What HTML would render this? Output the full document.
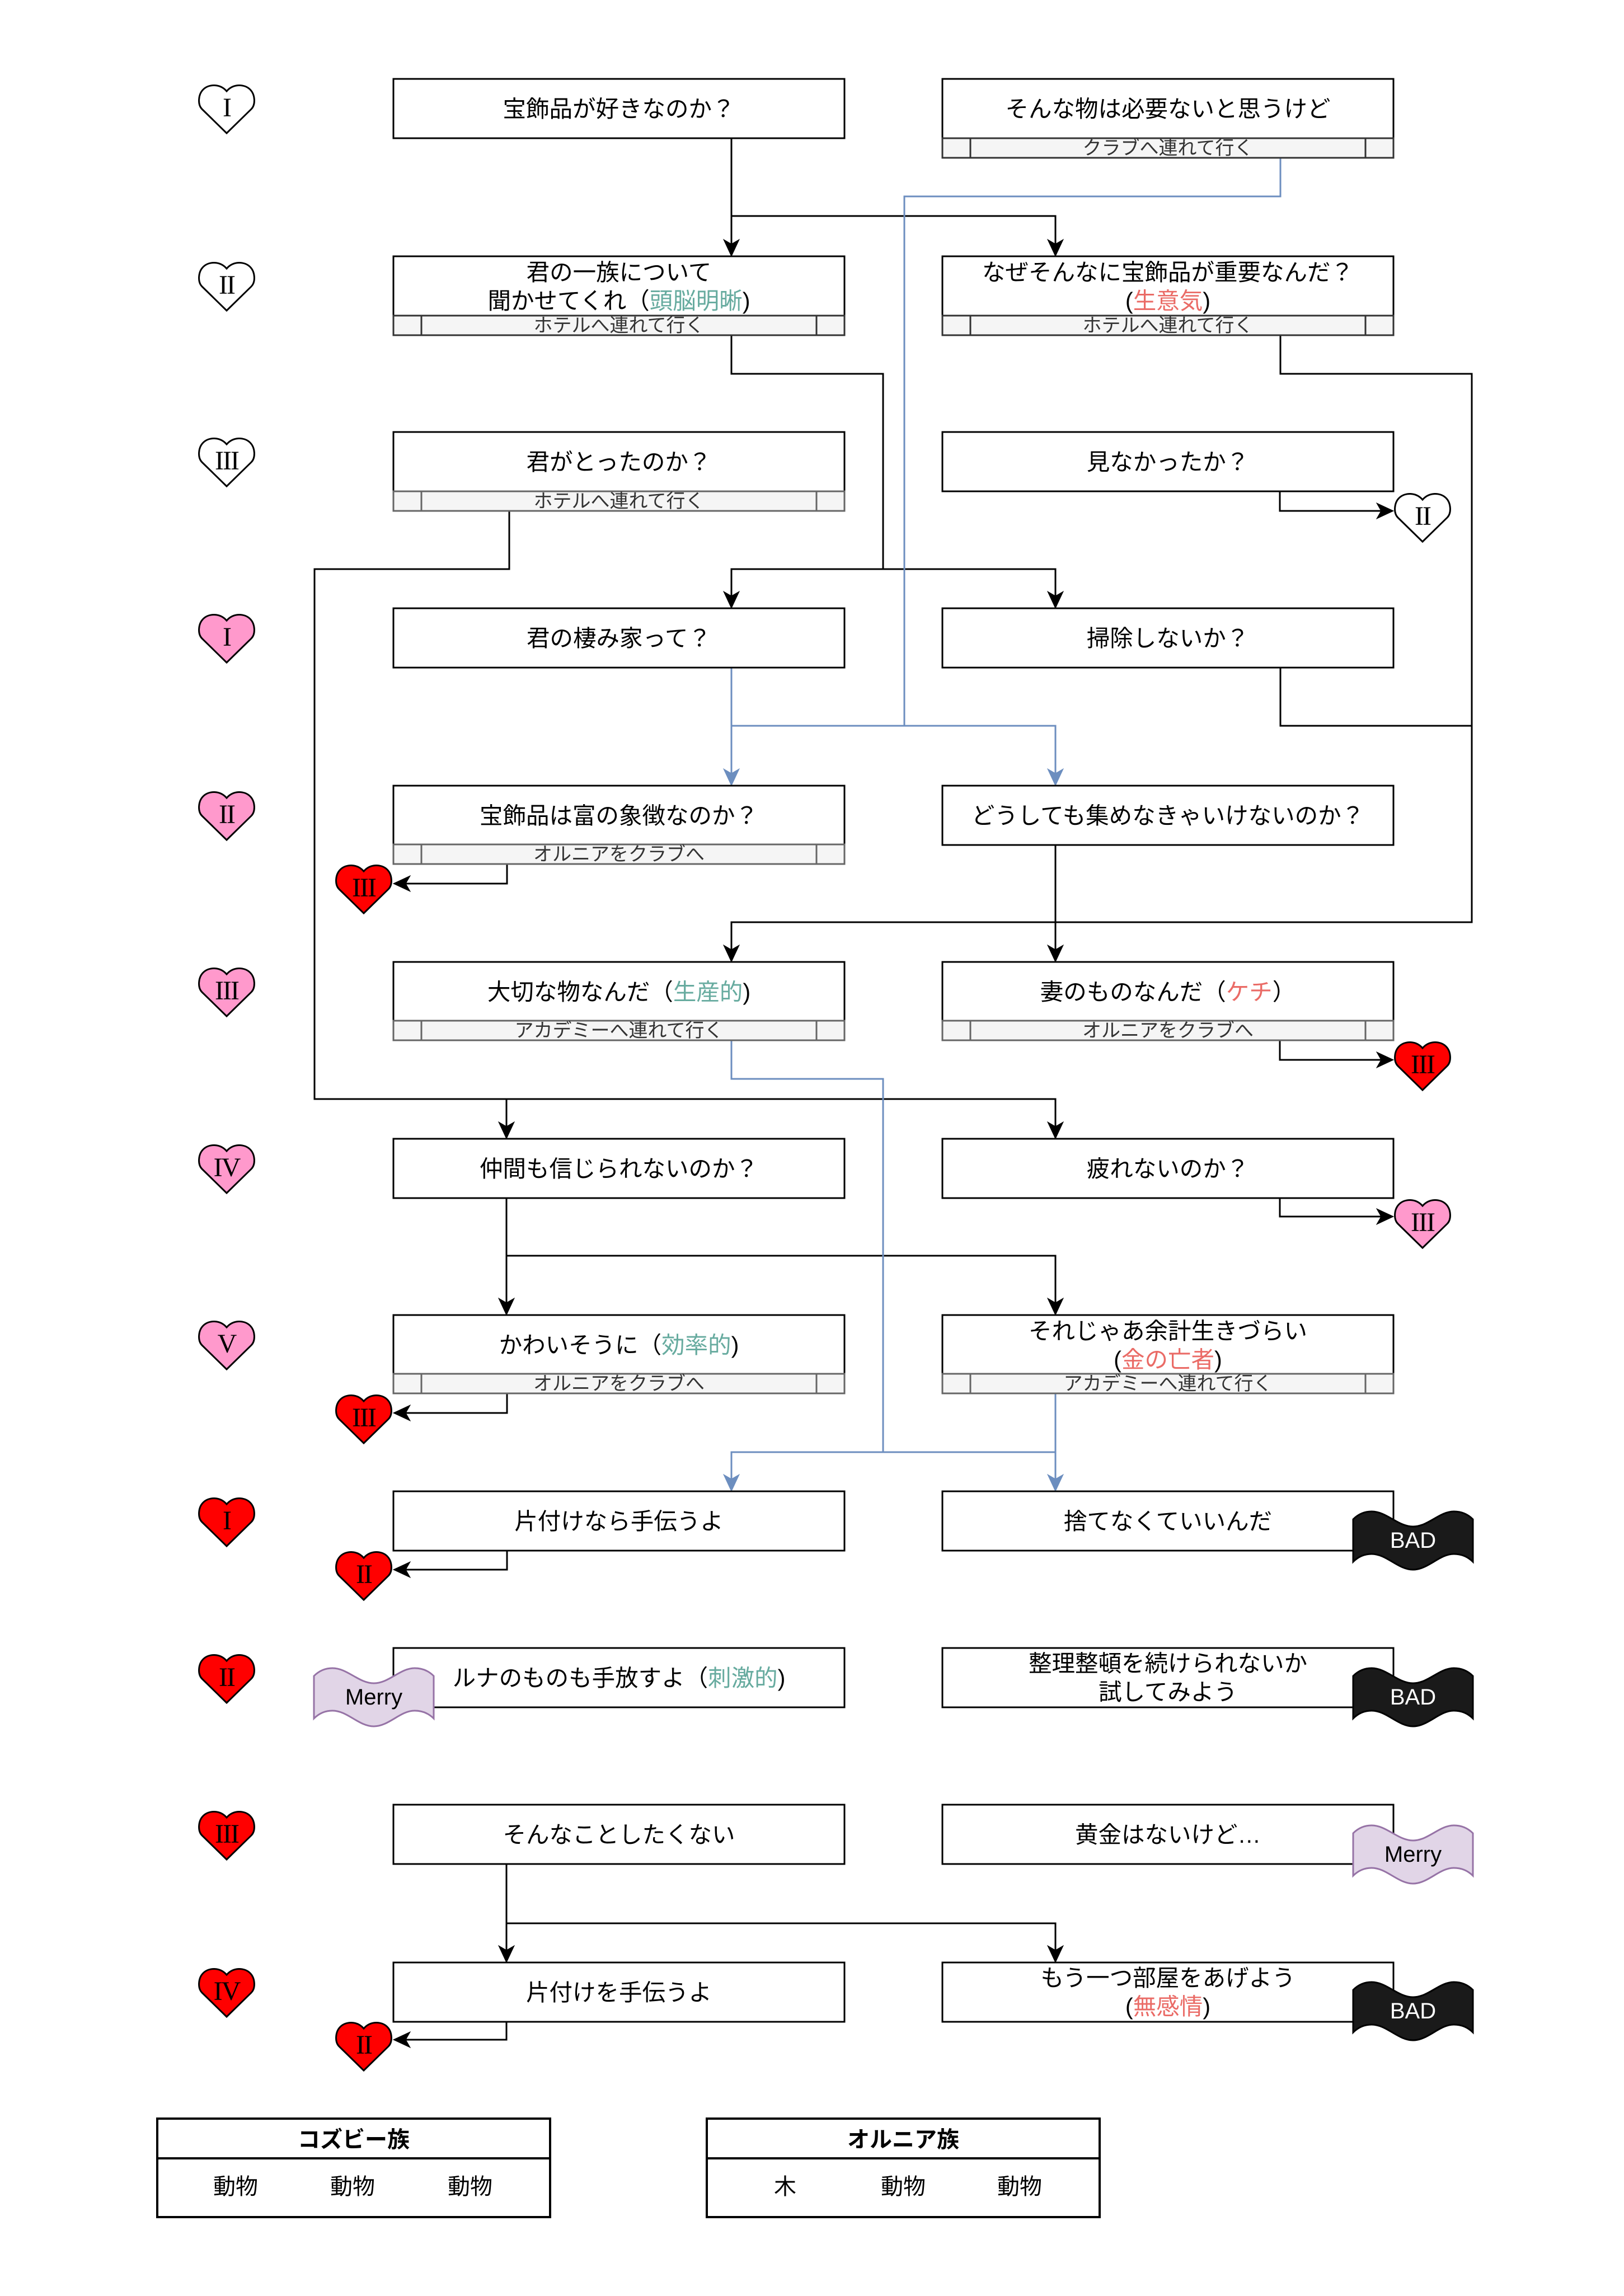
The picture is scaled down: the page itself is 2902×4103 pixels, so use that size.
<!DOCTYPE html>
<html>
<head>
<meta charset="utf-8">
<style>
html,body{margin:0;padding:0;background:#fff;}
svg{display:block;}
.t{font-family:"Liberation Sans","Noto Sans CJK JP",sans-serif;font-size:41.5px;fill:#000;text-anchor:middle;}
.f{font-family:"Liberation Sans","Noto Sans CJK JP",sans-serif;font-size:34px;fill:#333;text-anchor:middle;}
.n{font-family:"Liberation Serif",serif;font-size:48px;fill:#000;text-anchor:middle;letter-spacing:-2px;}
.s{font-family:"Liberation Sans",sans-serif;font-size:40px;text-anchor:middle;}
.h{font-family:"Liberation Sans","Noto Sans CJK JP",sans-serif;font-size:40px;fill:#000;text-anchor:middle;}
.g{fill:#67ab9f;}
.r{fill:#ea6b66;}
.box{fill:#fff;stroke:#000;stroke-width:3;}
.ft1{fill:#f5f5f5;stroke:#333;stroke-width:3;}
.ft2{fill:#f5f5f5;stroke:#666;stroke-width:3;}
.ln{fill:none;stroke:#000;stroke-width:3;}
.bl{fill:none;stroke:#6c8ebf;stroke-width:3;}
.ah{fill:#000;stroke:#000;stroke-width:1;}
.ab{fill:#6c8ebf;stroke:#6c8ebf;stroke-width:1;}
.hw{fill:#fff;stroke:#000;stroke-width:3;}
.hp{fill:#ff99cc;stroke:#000;stroke-width:3;}
.hr{fill:#ff0000;stroke:#000;stroke-width:3;}
.bad{fill:#1a1a1a;stroke:#000;stroke-width:3;}
.mer{fill:#e1d5e7;stroke:#9673a6;stroke-width:3;}
</style>
</head>
<body>
<svg width="2902" height="4103" viewBox="0 0 2902 4103" xmlns="http://www.w3.org/2000/svg">
<defs>
<path id="heart" d="M50,87 L6,44 C-2,36 -1,18 8,9 C18,-1 38,-2 50,12 C62,-2 82,-1 92,9 C101,18 102,36 94,44 Z"/>
<path id="tape" d="M0,14 C10,4 22,0 33,0 C60,0 80,27 107,27 C134,27 154,0 180,0 C192,0 204,4 214,14 L214,90 C204,80 192,76 180,76 C154,76 134,104 107,104 C80,104 60,76 33,76 C22,76 10,80 0,90 Z"/>
</defs>
<rect width="2902" height="4103" fill="#fff"/>

<!-- ===== connectors (black) ===== -->
<polyline class="ln" points="1307,247 1307,436"/>
<polyline class="ln" points="1307,386 1886,386 1886,436"/>

<polyline class="ln" points="1307,599 1307,668 1578,668 1578,1017"/>
<polyline class="ln" points="1307,1065 1307,1017 1886,1017 1886,1065"/>

<polyline class="ln" points="2288,599 2288,668 2630,668 2630,1648 1307,1648 1307,1697"/>
<polyline class="ln" points="2288,1193 2288,1297 2630,1297"/>

<polyline class="ln" points="910,913 910,1017 562,1017 562,1964 1886,1964 1886,2013"/>
<polyline class="ln" points="905,1964 905,2013"/>

<polyline class="ln" points="2287,878 2287,913 2468,913"/>
<polyline class="ln" points="906,1543 906,1579 725,1579"/>
<polyline class="ln" points="1886,1509 1886,1697"/>
<polyline class="ln" points="2287,1859 2287,1894 2468,1894"/>

<polyline class="ln" points="905,2139 905,2328"/>
<polyline class="ln" points="905,2244 1886,2244 1886,2328"/>
<polyline class="ln" points="2287,2139 2287,2174 2468,2174"/>

<polyline class="ln" points="906,2489 906,2525 725,2525"/>
<polyline class="ln" points="906,2771 906,2805 725,2805"/>

<polyline class="ln" points="905,3331 905,3485"/>
<polyline class="ln" points="905,3437 1886,3437 1886,3485"/>
<polyline class="ln" points="905,3611 905,3645 725,3645"/>

<!-- ===== connectors (blue) ===== -->
<polyline class="bl" points="2288,282 2288,351 1616,351 1616,1297"/>
<polyline class="bl" points="1307,1193 1307,1382"/>
<polyline class="bl" points="1307,1297 1886,1297 1886,1382"/>
<polyline class="bl" points="1307,1859 1307,1928 1578,1928 1578,2595"/>
<polyline class="bl" points="1307,2643 1307,2595 1886,2595 1886,2643"/>
<polyline class="bl" points="1886,2489 1886,2595"/>

<!-- ===== arrowheads ===== -->
<!-- down black -->
<polygon class="ah" points="1307,458 1293,428 1307,436 1321,428"/>
<polygon class="ah" points="1886,458 1872,428 1886,436 1900,428"/>
<polygon class="ah" points="1307,1087 1293,1057 1307,1065 1321,1057"/>
<polygon class="ah" points="1886,1087 1872,1057 1886,1065 1900,1057"/>
<polygon class="ah" points="1307,1719 1293,1689 1307,1697 1321,1689"/>
<polygon class="ah" points="1886,1719 1872,1689 1886,1697 1900,1689"/>
<polygon class="ah" points="905,2035 891,2005 905,2013 919,2005"/>
<polygon class="ah" points="1886,2035 1872,2005 1886,2013 1900,2005"/>
<polygon class="ah" points="905,2350 891,2320 905,2328 919,2320"/>
<polygon class="ah" points="1886,2350 1872,2320 1886,2328 1900,2320"/>
<polygon class="ah" points="905,3507 891,3477 905,3485 919,3477"/>
<polygon class="ah" points="1886,3507 1872,3477 1886,3485 1900,3477"/>
<!-- down blue -->
<polygon class="ab" points="1307,1404 1293,1374 1307,1382 1321,1374"/>
<polygon class="ab" points="1886,1404 1872,1374 1886,1382 1900,1374"/>
<polygon class="ab" points="1307,2665 1293,2635 1307,2643 1321,2635"/>
<polygon class="ab" points="1886,2665 1872,2635 1886,2643 1900,2635"/>
<!-- right -->
<polygon class="ah" points="2490,913 2460,899 2468,913 2460,927"/>
<polygon class="ah" points="2490,1894 2460,1880 2468,1894 2460,1908"/>
<polygon class="ah" points="2490,2174 2460,2160 2468,2174 2460,2188"/>
<!-- left -->
<polygon class="ah" points="703,1579 733,1565 725,1579 733,1593"/>
<polygon class="ah" points="703,2525 733,2511 725,2525 733,2539"/>
<polygon class="ah" points="703,2805 733,2791 725,2805 733,2819"/>
<polygon class="ah" points="703,3645 733,3631 725,3645 733,3659"/>

<!-- ===== boxes ===== -->
<!-- Row 1 -->
<rect class="box" x="703" y="141" width="806" height="106"/>
<text class="t" x="1106" y="209">宝飾品が好きなのか？</text>
<rect class="box" x="1684" y="141" width="806" height="106"/>
<text class="t" x="2087" y="209">そんな物は必要ないと思うけど</text>
<rect class="ft1" x="1684" y="247" width="806" height="35"/>
<line x1="1734" y1="247" x2="1734" y2="282" stroke="#333" stroke-width="3"/>
<line x1="2440" y1="247" x2="2440" y2="282" stroke="#333" stroke-width="3"/>
<text class="f" x="2087" y="276">クラブへ連れて行く</text>

<!-- Row 2 -->
<rect class="box" x="703" y="458" width="806" height="106"/>
<text class="t" x="1106" y="501">君の一族について</text>
<text class="t" x="1106" y="552">聞かせてくれ（<tspan class="g">頭脳明晰</tspan>)</text>
<rect class="ft1" x="703" y="564" width="806" height="35"/>
<line x1="753" y1="564" x2="753" y2="599" stroke="#333" stroke-width="3"/>
<line x1="1459" y1="564" x2="1459" y2="599" stroke="#333" stroke-width="3"/>
<text class="f" x="1106" y="593">ホテルへ連れて行く</text>

<rect class="box" x="1684" y="458" width="806" height="106"/>
<text class="t" x="2087" y="501">なぜそんなに宝飾品が重要なんだ？</text>
<text class="t" x="2087" y="552">(<tspan class="r">生意気</tspan>)</text>
<rect class="ft1" x="1684" y="564" width="806" height="35"/>
<line x1="1734" y1="564" x2="1734" y2="599" stroke="#333" stroke-width="3"/>
<line x1="2440" y1="564" x2="2440" y2="599" stroke="#333" stroke-width="3"/>
<text class="f" x="2087" y="593">ホテルへ連れて行く</text>

<!-- Row 3 -->
<rect class="box" x="703" y="772" width="806" height="106"/>
<text class="t" x="1106" y="840">君がとったのか？</text>
<rect class="ft2" x="703" y="878" width="806" height="35"/>
<line x1="753" y1="878" x2="753" y2="913" stroke="#666" stroke-width="3"/>
<line x1="1459" y1="878" x2="1459" y2="913" stroke="#666" stroke-width="3"/>
<text class="f" x="1106" y="907">ホテルへ連れて行く</text>

<rect class="box" x="1684" y="772" width="806" height="106"/>
<text class="t" x="2087" y="840">見なかったか？</text>

<!-- Row 4 -->
<rect class="box" x="703" y="1087" width="806" height="106"/>
<text class="t" x="1106" y="1155">君の棲み家って？</text>
<rect class="box" x="1684" y="1087" width="806" height="106"/>
<text class="t" x="2087" y="1155">掃除しないか？</text>

<!-- Row 5 -->
<rect class="box" x="703" y="1404" width="806" height="106"/>
<text class="t" x="1106" y="1472">宝飾品は富の象徴なのか？</text>
<rect class="ft2" x="703" y="1509" width="806" height="35"/>
<line x1="753" y1="1509" x2="753" y2="1544" stroke="#666" stroke-width="3"/>
<line x1="1459" y1="1509" x2="1459" y2="1544" stroke="#666" stroke-width="3"/>
<text class="f" x="1106" y="1538">オルニアをクラブへ</text>

<rect class="box" x="1684" y="1404" width="806" height="106"/>
<text class="t" x="2087" y="1472">どうしても集めなきゃいけないのか？</text>

<!-- Row 6 -->
<rect class="box" x="703" y="1719" width="806" height="106"/>
<text class="t" x="1106" y="1787">大切な物なんだ（<tspan class="g">生産的</tspan>)</text>
<rect class="ft2" x="703" y="1824" width="806" height="35"/>
<line x1="753" y1="1824" x2="753" y2="1859" stroke="#666" stroke-width="3"/>
<line x1="1459" y1="1824" x2="1459" y2="1859" stroke="#666" stroke-width="3"/>
<text class="f" x="1106" y="1853">アカデミーへ連れて行く</text>

<rect class="box" x="1684" y="1719" width="806" height="106"/>
<text class="t" x="2087" y="1787">妻のものなんだ（<tspan class="r">ケチ</tspan>）</text>
<rect class="ft2" x="1684" y="1824" width="806" height="35"/>
<line x1="1734" y1="1824" x2="1734" y2="1859" stroke="#666" stroke-width="3"/>
<line x1="2440" y1="1824" x2="2440" y2="1859" stroke="#666" stroke-width="3"/>
<text class="f" x="2087" y="1853">オルニアをクラブへ</text>

<!-- Row 7 -->
<rect class="box" x="703" y="2035" width="806" height="106"/>
<text class="t" x="1106" y="2103">仲間も信じられないのか？</text>
<rect class="box" x="1684" y="2035" width="806" height="106"/>
<text class="t" x="2087" y="2103">疲れないのか？</text>

<!-- Row 8 -->
<rect class="box" x="703" y="2350" width="806" height="106"/>
<text class="t" x="1106" y="2418">かわいそうに（<tspan class="g">効率的</tspan>)</text>
<rect class="ft2" x="703" y="2455" width="806" height="35"/>
<line x1="753" y1="2455" x2="753" y2="2490" stroke="#666" stroke-width="3"/>
<line x1="1459" y1="2455" x2="1459" y2="2490" stroke="#666" stroke-width="3"/>
<text class="f" x="1106" y="2484">オルニアをクラブへ</text>

<rect class="box" x="1684" y="2350" width="806" height="106"/>
<text class="t" x="2087" y="2393">それじゃあ余計生きづらい</text>
<text class="t" x="2087" y="2444">(<tspan class="r">金の亡者</tspan>)</text>
<rect class="ft2" x="1684" y="2455" width="806" height="35"/>
<line x1="1734" y1="2455" x2="1734" y2="2490" stroke="#666" stroke-width="3"/>
<line x1="2440" y1="2455" x2="2440" y2="2490" stroke="#666" stroke-width="3"/>
<text class="f" x="2087" y="2484">アカデミーへ連れて行く</text>

<!-- Row 9 -->
<rect class="box" x="703" y="2665" width="806" height="106"/>
<text class="t" x="1106" y="2733">片付けなら手伝うよ</text>
<rect class="box" x="1684" y="2665" width="806" height="106"/>
<text class="t" x="2087" y="2733">捨てなくていいんだ</text>

<!-- Row 10 -->
<rect class="box" x="703" y="2945" width="806" height="106"/>
<text class="t" x="1106" y="3013">ルナのものも手放すよ（<tspan class="g">刺激的</tspan>)</text>
<rect class="box" x="1684" y="2945" width="806" height="106"/>
<text class="t" x="2087" y="2987">整理整頓を続けられないか</text>
<text class="t" x="2087" y="3038">試してみよう</text>

<!-- Row 11 -->
<rect class="box" x="703" y="3225" width="806" height="106"/>
<text class="t" x="1106" y="3293">そんなことしたくない</text>
<rect class="box" x="1684" y="3225" width="806" height="106"/>
<text class="t" x="2087" y="3293">黄金はないけど…</text>

<!-- Row 12 -->
<rect class="box" x="703" y="3507" width="806" height="106"/>
<text class="t" x="1106" y="3575">片付けを手伝うよ</text>
<rect class="box" x="1684" y="3507" width="806" height="106"/>
<text class="t" x="2087" y="3549">もう一つ部屋をあげよう</text>
<text class="t" x="2087" y="3600">(<tspan class="r">無感情</tspan>)</text>

<!-- ===== left column hearts ===== -->
<g transform="translate(355,151)"><use href="#heart" class="hw"/><text class="n" x="50" y="57">I</text></g>
<g transform="translate(355,468)"><use href="#heart" class="hw"/><text class="n" x="50" y="57">II</text></g>
<g transform="translate(355,782)"><use href="#heart" class="hw"/><text class="n" x="50" y="57">III</text></g>
<g transform="translate(355,1097)"><use href="#heart" class="hp"/><text class="n" x="50" y="57">I</text></g>
<g transform="translate(355,1414)"><use href="#heart" class="hp"/><text class="n" x="50" y="57">II</text></g>
<g transform="translate(355,1729)"><use href="#heart" class="hp"/><text class="n" x="50" y="57">III</text></g>
<g transform="translate(355,2045)"><use href="#heart" class="hp"/><text class="n" x="50" y="57">IV</text></g>
<g transform="translate(355,2360)"><use href="#heart" class="hp"/><text class="n" x="50" y="57">V</text></g>
<g transform="translate(355,2676)"><use href="#heart" class="hr"/><text class="n" x="50" y="57">I</text></g>
<g transform="translate(355,2956)"><use href="#heart" class="hr"/><text class="n" x="50" y="57">II</text></g>
<g transform="translate(355,3236)"><use href="#heart" class="hr"/><text class="n" x="50" y="57">III</text></g>
<g transform="translate(355,3517)"><use href="#heart" class="hr"/><text class="n" x="50" y="57">IV</text></g>

<!-- ===== right hearts ===== -->
<g transform="translate(2492,881)"><use href="#heart" class="hw"/><text class="n" x="50" y="57">II</text></g>
<g transform="translate(2492,1861)"><use href="#heart" class="hr"/><text class="n" x="50" y="57">III</text></g>
<g transform="translate(2492,2143)"><use href="#heart" class="hp"/><text class="n" x="50" y="57">III</text></g>

<!-- ===== small left red hearts ===== -->
<g transform="translate(600,1545)"><use href="#heart" class="hr"/><text class="n" x="50" y="57">III</text></g>
<g transform="translate(600,2492)"><use href="#heart" class="hr"/><text class="n" x="50" y="57">III</text></g>
<g transform="translate(600,2772)"><use href="#heart" class="hr"/><text class="n" x="50" y="57">II</text></g>
<g transform="translate(600,3613)"><use href="#heart" class="hr"/><text class="n" x="50" y="57">II</text></g>

<!-- ===== BAD / Merry tapes ===== -->
<g transform="translate(2418,2701)"><use href="#tape" class="bad"/><text class="s" x="107" y="65" fill="#fff">BAD</text></g>
<g transform="translate(2418,2981)"><use href="#tape" class="bad"/><text class="s" x="107" y="65" fill="#fff">BAD</text></g>
<g transform="translate(2418,3542)"><use href="#tape" class="bad"/><text class="s" x="107" y="65" fill="#fff">BAD</text></g>
<g transform="translate(2418,3262)"><use href="#tape" class="mer"/><text class="s" x="107" y="65" fill="#000">Merry</text></g>
<g transform="translate(561,2981)"><use href="#tape" class="mer"/><text class="s" x="107" y="65" fill="#000">Merry</text></g>

<!-- ===== tables ===== -->
<rect x="281" y="3786" width="702" height="176" fill="#fff" stroke="#000" stroke-width="4"/>
<line x1="281" y1="3857" x2="983" y2="3857" stroke="#000" stroke-width="4"/>
<text class="h" x="632" y="3837" font-weight="bold">コズビー族</text>
<text class="h" x="421" y="3921">動物</text>
<text class="h" x="630" y="3921">動物</text>
<text class="h" x="840" y="3921">動物</text>

<rect x="1263" y="3786" width="702" height="176" fill="#fff" stroke="#000" stroke-width="4"/>
<line x1="1263" y1="3857" x2="1965" y2="3857" stroke="#000" stroke-width="4"/>
<text class="h" x="1614" y="3837" font-weight="bold">オルニア族</text>
<text class="h" x="1403" y="3921">木</text>
<text class="h" x="1614" y="3921">動物</text>
<text class="h" x="1822" y="3921">動物</text>
</svg>
</body>
</html>
